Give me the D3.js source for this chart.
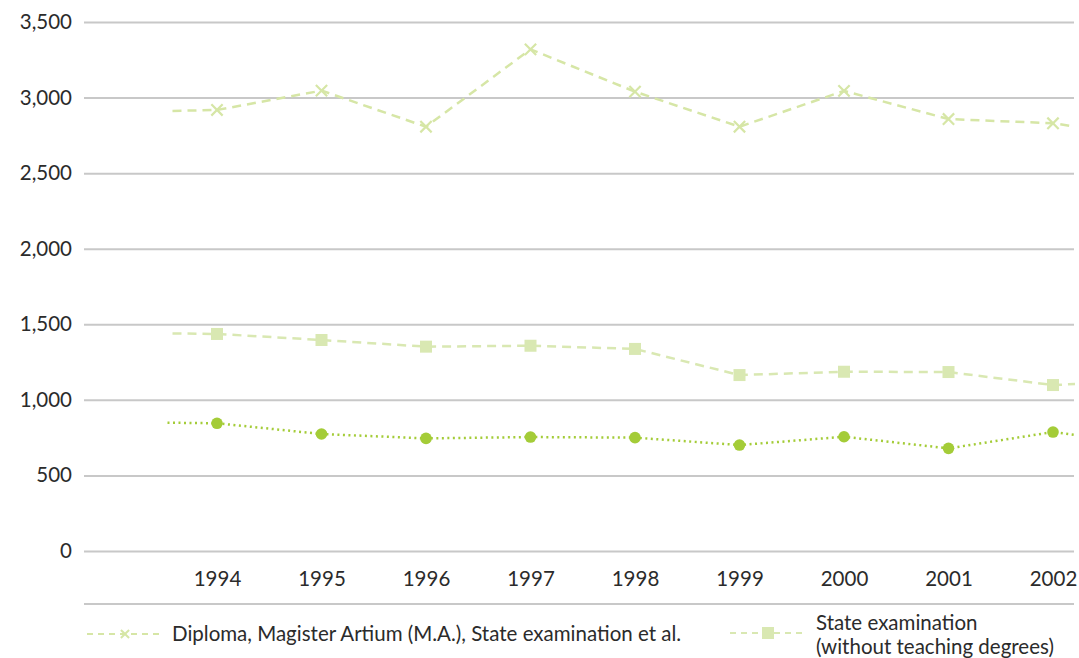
<!DOCTYPE html>
<html>
<head>
<meta charset="utf-8">
<script src="https://cdn.jsdelivr.net/npm/d3@7"></script>
<style>
  body { margin: 0; background: #fff; }
  text { font-family: Lato, "Open Sans", sans-serif; fill: #2b2b2b; }
</style>
</head>
<body>
<div id="vis"></div>
<script>
// data (1993 and 2003 only show as the clipped line ends)
var years = [1993, 1994, 1995, 1996, 1997, 1998, 1999, 2000, 2001, 2002, 2003];
var tickYears = [1994, 1995, 1996, 1997, 1998, 1999, 2000, 2001, 2002];
var diploma = [2903, 2918, 3046, 2807, 3319, 3039, 2807, 3044, 2858, 2830, 2726];
var stateExam = [1444, 1436, 1396, 1352, 1358, 1337, 1164, 1186, 1184, 1098, 1130];
var otherDegrees = [853, 845, 774, 745, 754, 750, 701, 756, 679, 787, 696];
var yTicks = [0, 500, 1000, 1500, 2000, 2500, 3000, 3500];
var legendLabels = ["Diploma, Magister Artium (M.A.), State examination et al.",
                    ["State examination", "(without teaching degrees)"]];

var width = 1079, height = 658;
var lightGreen = "#d6e6a6", squareGreen = "#d9e8b2", green = "#a4cc38";
var fontSize = "20.5px";

var svg = d3.select("#vis").append("svg")
    .attr("width", width)
    .attr("height", height);

// scales
var x = d3.scaleLinear().domain([1994, 2002]).range([217, 1053]);
var y = d3.scaleLinear().domain([0, 3500]).range([551, 22]);

// y axis + grid
var gridLeft = 84, gridRight = 1074;
svg.append("g")
    .attr("transform", "translate(" + gridLeft + ",0)")
    .call(d3.axisLeft(y).tickValues(yTicks).tickFormat(d3.format(","))
        .tickSize(-(gridRight - gridLeft)).tickPadding(12))
    .call(function(g) { g.select(".domain").remove(); })
    .call(function(g) {
        g.selectAll(".tick line").attr("stroke", "#c8c8c8").attr("stroke-width", 2);
        g.selectAll(".tick text").style("font-size", fontSize).attr("fill", "#2b2b2b");
    });

// x axis labels
svg.append("g")
    .attr("transform", "translate(0,551)")
    .call(d3.axisBottom(x).tickValues(tickYears).tickFormat(d3.format("d"))
        .tickSize(0).tickPadding(20))
    .call(function(g) { g.select(".domain").remove(); })
    .call(function(g) {
        g.selectAll(".tick text").style("font-size", fontSize).attr("fill", "#2b2b2b");
    });

// bottom rule above legend
svg.append("line")
    .attr("x1", gridLeft).attr("x2", gridRight)
    .attr("y1", 604).attr("y2", 604)
    .attr("stroke", "#c8c8c8").attr("stroke-width", 2);

// clip so the lines run out to the edges like in the original
svg.append("clipPath").attr("id", "plotClip")
    .append("rect").attr("x", 167).attr("y", 0).attr("width", 1075 - 167).attr("height", 600);

var plot = svg.append("g").attr("clip-path", "url(#plotClip)");

function seriesData(vals) {
    return years.map(function(yr, i) { return { year: yr, value: vals[i] }; });
}
var line = d3.line()
    .x(function(d) { return x(d.year); })
    .y(function(d) { return y(d.value); });

// lines
plot.append("path").datum(seriesData(diploma))
    .attr("d", line).attr("fill", "none")
    .attr("stroke", lightGreen).attr("stroke-width", 2.5).attr("stroke-dasharray", "9,6");
plot.append("path").datum(seriesData(stateExam))
    .attr("d", line).attr("fill", "none")
    .attr("stroke", squareGreen).attr("stroke-width", 2.5).attr("stroke-dasharray", "9,6");
plot.append("path").datum(seriesData(otherDegrees))
    .attr("d", line).attr("fill", "none")
    .attr("stroke", green).attr("stroke-width", 2.5).attr("stroke-dasharray", "2,3.5");

// markers
var cross = d3.symbol().type(d3.symbolX).size(85);
plot.selectAll(".xmark")
    .data(seriesData(diploma))
    .enter()
    .append("path")
    .attr("d", cross)
    .attr("transform", function(d) { return "translate(" + x(d.year) + "," + y(d.value) + ")"; })
    .attr("fill", "none")
    .attr("stroke", lightGreen)
    .attr("stroke-width", 2.2);

plot.selectAll(".sqmark")
    .data(seriesData(stateExam))
    .enter()
    .append("rect")
    .attr("x", function(d) { return x(d.year) - 6; })
    .attr("y", function(d) { return y(d.value) - 6; })
    .attr("width", 12).attr("height", 12)
    .attr("fill", squareGreen);

plot.selectAll(".dotmark")
    .data(seriesData(otherDegrees))
    .enter()
    .append("circle")
    .attr("cx", function(d) { return x(d.year); })
    .attr("cy", function(d) { return y(d.value); })
    .attr("r", 5.8)
    .attr("fill", green);

// legend
var leg1 = svg.append("g").attr("transform", "translate(0,634)");
leg1.append("line").attr("x1", 87).attr("x2", 163)
    .attr("stroke", lightGreen).attr("stroke-width", 2).attr("stroke-dasharray", "6,5");
leg1.append("path").attr("d", d3.symbol().type(d3.symbolX).size(45))
    .attr("transform", "translate(125,0)")
    .attr("fill", "none").attr("stroke", lightGreen).attr("stroke-width", 2);
leg1.append("text").attr("x", 172).attr("y", 7)
    .style("font-size", fontSize).text(legendLabels[0]);

var leg2 = svg.append("g").attr("transform", "translate(0,633)");
leg2.append("line").attr("x1", 730).attr("x2", 806)
    .attr("stroke", squareGreen).attr("stroke-width", 2).attr("stroke-dasharray", "6,5");
leg2.append("rect").attr("x", 762).attr("y", -6).attr("width", 12).attr("height", 12)
    .attr("fill", squareGreen);
leg2.selectAll("text")
    .data(legendLabels[1])
    .enter()
    .append("text")
    .attr("x", 816)
    .attr("y", function(d, i) { return -3 + i * 24; })
    .style("font-size", fontSize)
    .text(function(d) { return d; });
</script>
</body>
</html>
